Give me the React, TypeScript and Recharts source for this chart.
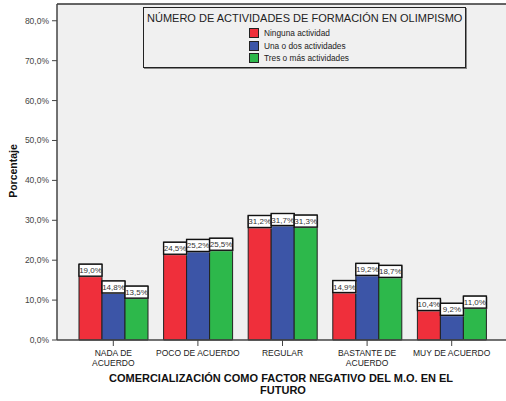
import {
    BarChart,
    Bar,
    XAxis,
    YAxis,
    CartesianGrid,
    ReferenceLine,
    LabelList,
} from "recharts";

document.body.style.margin = "0";

const FONT = "'Liberation Sans', Arial, sans-serif";

const categories = [
    "NADA DE\nACUERDO",
    "POCO DE ACUERDO",
    "REGULAR",
    "BASTANTE DE\nACUERDO",
    "MUY DE ACUERDO",
];
const ninguna = [19.0, 24.5, 31.2, 14.9, 10.4];
const unaODos = [14.8, 25.2, 31.7, 19.2, 9.2];
const tresOMas = [13.5, 25.5, 31.3, 18.7, 11.0];
const yTicks = [0, 10, 20, 30, 40, 50, 60, 70, 80];

const SERIES = [
    { key: "ninguna", name: "Ninguna actividad", fill: "#EF2F3B" },
    { key: "unaODos", name: "Una o dos actividades", fill: "#3C55A7" },
    { key: "tresOMas", name: "Tres o más actividades", fill: "#2DB84B" },
];

const data = categories.map((cat, i) => ({
    cat,
    ninguna: ninguna[i],
    unaODos: unaODos[i],
    tresOMas: tresOMas[i],
}));

const pct = (v: number) => v.toFixed(1).replace(".", ",") + "%";

function ValueBox(props: any) {
    const { x, y, width, value } = props;
    return (
        <g>
            <rect x={x + 1} y={y + 1} width={width} height={12} fill="#999" />
            <rect
                x={x}
                y={y}
                width={width}
                height={12}
                fill="#fff"
                stroke="#111"
                strokeWidth={1.4}
            />
            <text
                x={x + width / 2}
                y={y + 9}
                textAnchor="middle"
                fontSize={8}
                fontFamily={FONT}
                fill="#333"
            >
                {pct(value)}
            </text>
        </g>
    );
}

function CategoryTick(props: any) {
    const { x, y, payload } = props;
    const lines = String(payload.value).split("\n");
    return (
        <text
            x={x}
            y={y + 8}
            textAnchor="middle"
            fontSize={8.5}
            fontFamily={FONT}
            fill="#222"
        >
            {lines.map((line, i) => (
                <tspan key={i} x={x} dy={i === 0 ? 0 : 9.5}>
                    {line}
                </tspan>
            ))}
        </text>
    );
}

function LegendBox() {
    return (
        <div
            style={{
                position: "absolute",
                left: 143,
                top: 7,
                width: 321,
                height: 59,
                border: "1px solid #222",
                boxShadow: "1px 1px 0 #888",
                whiteSpace: "nowrap",
                fontFamily: FONT,
                background: "#F0F0F0",
            }}
        >
            <div style={{ fontSize: 11, color: "#222", marginLeft: 3, marginTop: 4 }}>
                NÚMERO DE ACTIVIDADES DE FORMACIÓN EN OLIMPISMO
            </div>
            <div style={{ marginLeft: 105, marginTop: 3 }}>
                {SERIES.map((s) => (
                    <div
                        key={s.key}
                        style={{ display: "flex", alignItems: "center", height: 12.5 }}
                    >
                        <span
                            style={{
                                width: 8,
                                height: 8,
                                background: s.fill,
                                border: "1px solid #222",
                                marginRight: 5,
                            }}
                        />
                        <span style={{ fontSize: 8.3, color: "#222" }}>{s.name}</span>
                    </div>
                ))}
            </div>
        </div>
    );
}

export default function App() {
    return (
        <div style={{ position: "relative", width: 506, height: 401, background: "#fff" }}>
            <BarChart
                width={506}
                height={401}
                data={data}
                margin={{ top: 4, right: 0, left: 0, bottom: 0 }}
                barGap={0}
                barSize={23}
            >
                <CartesianGrid
                    fill="#F0F0F0"
                    horizontal={false}
                    vertical={false}
                />
                <ReferenceLine y={84.2} stroke="#333" strokeWidth={1.5} />
                <XAxis
                    dataKey="cat"
                    height={61}
                    interval={0}
                    padding={{ left: 14, right: 12 }}
                    tick={<CategoryTick />}
                    tickSize={6}
                    axisLine={{ stroke: "#444", strokeWidth: 1.5 }}
                    tickLine={{ stroke: "#444" }}
                    label={(p: any) => (
                        <text
                            textAnchor="middle"
                            fontSize={11}
                            fontWeight="bold"
                            fontFamily={FONT}
                            fill="#111"
                        >
                            <tspan x={281} y={382}>
                                COMERCIALIZACIÓN COMO FACTOR NEGATIVO DEL M.O. EN EL
                            </tspan>
                            <tspan x={283} y={394}>
                                FUTURO
                            </tspan>
                        </text>
                    )}
                />
                <YAxis
                    width={57}
                    domain={[0, 84.2]}
                    ticks={yTicks}
                    tickFormatter={pct}
                    tickSize={5}
                    tickMargin={3}
                    axisLine={{ stroke: "#444", strokeWidth: 1.5 }}
                    tickLine={{ stroke: "#444" }}
                    tick={{ fontSize: 8.5, fill: "#444", fontFamily: FONT }}
                    label={(p: any) => (
                        <text
                            x={17}
                            y={171}
                            transform="rotate(-90 17 171)"
                            textAnchor="middle"
                            fontSize={10.5}
                            fontWeight="bold"
                            fontFamily={FONT}
                            fill="#111"
                        >
                            Porcentaje
                        </text>
                    )}
                />
                {SERIES.map((s) => (
                    <Bar
                        key={s.key}
                        dataKey={s.key}
                        name={s.name}
                        fill={s.fill}
                        stroke="#222"
                        strokeWidth={1}
                        isAnimationActive={false}
                    >
                        <LabelList dataKey={s.key} content={<ValueBox />} />
                    </Bar>
                ))}
            </BarChart>
            <LegendBox />
        </div>
    );
}
